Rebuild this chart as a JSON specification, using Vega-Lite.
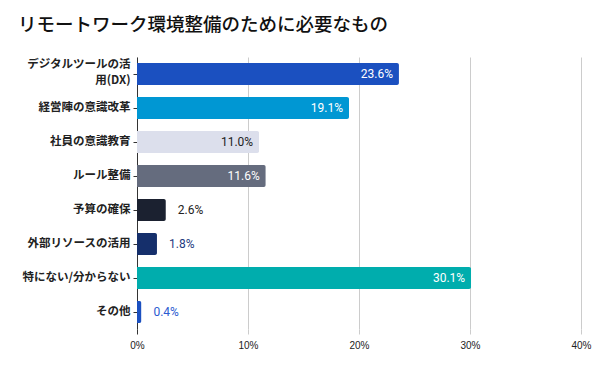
{
  "$schema": "https://vega.github.io/schema/vega-lite/v6.json",
  "autosize": {"type": "none"},
  "width": 444,
  "height": 272,
  "padding": {"left": 137, "top": 57, "right": 19, "bottom": 42},
  "background": "white",
  "title": {
    "text": "リモートワーク環境整備のために必要なもの",
    "anchor": "start",
    "frame": "group",
    "font": "Noto Sans CJK JP",
    "fontSize": 18.5,
    "fontWeight": 500,
    "color": "#111111",
    "dx": -119,
    "offset": 23
  },
  "data": {
    "values": [
      {"category": "デジタルツールの活用(DX)", "value": 0.236},
      {"category": "経営陣の意識改革", "value": 0.191},
      {"category": "社員の意識教育", "value": 0.110},
      {"category": "ルール整備", "value": 0.116},
      {"category": "予算の確保", "value": 0.026},
      {"category": "外部リソースの活用", "value": 0.018},
      {"category": "特にない/分からない", "value": 0.301},
      {"category": "その他", "value": 0.004}
    ]
  },
  "encoding": {
    "y": {
      "field": "category",
      "type": "nominal",
      "sort": null,
      "scale": {"paddingInner": 0.36, "paddingOuter": 0.18},
      "axis": {
        "title": null,
        "labelFont": "Noto Sans CJK JP",
        "labelFontWeight": "bold",
        "labelFontSize": 11.5,
        "labelColor": "#222222",
        "labelPadding": 3,
        "tickSize": 4,
        "tickColor": "#333333",
        "domainColor": "#333333",
        "labelLimit": 200,
        "labelExpr": "datum.label == 'デジタルツールの活用(DX)' ? ['デジタルツールの活', '用(DX)'] : datum.label",
        "labelLineHeight": 16,
        "labelOffset": {"condition": {"test": "datum.label == 'デジタルツールの活用(DX)'", "value": -9}, "value": 0}
      }
    },
    "x": {
      "field": "value",
      "type": "quantitative",
      "scale": {"domain": [0, 0.4]},
      "axis": {
        "title": null,
        "format": ".0%",
        "values": [0, 0.1, 0.2, 0.3, 0.4],
        "domain": false,
        "grid": true,
        "gridColor": "#cccccc",
        "tickColor": {"condition": {"test": "datum.value == 0", "value": "#333333"}, "value": "#cccccc"},
        "tickSize": 5,
        "labelFlush": false,
        "labelFont": "Liberation Sans",
        "labelFontSize": 10,
        "labelColor": "#222222",
        "labelPadding": 6
      }
    }
  },
  "layer": [
    {
      "mark": {"type": "bar", "cornerRadiusEnd": 2},
      "encoding": {
        "color": {
          "field": "category",
          "type": "nominal",
          "legend": null,
          "scale": {
            "domain": ["デジタルツールの活用(DX)", "経営陣の意識改革", "社員の意識教育", "ルール整備", "予算の確保", "外部リソースの活用", "特にない/分からない", "その他"],
            "range": ["#1B50C0", "#0097D3", "#DCDFEC", "#656C7E", "#1B2130", "#152F6B", "#00ADAD", "#1B50C0"]
          }
        }
      }
    },
    {
      "transform": [{"filter": "datum.value > 0.05"}],
      "mark": {"type": "text", "align": "right", "baseline": "middle", "dx": -6, "font": "Roboto", "fontSize": 12},
      "encoding": {
        "text": {"field": "value", "type": "quantitative", "format": ".1%"},
        "color": {
          "condition": {"test": "datum.category == '社員の意識教育'", "value": "#222222"},
          "value": "#ffffff"
        }
      }
    },
    {
      "transform": [{"filter": "datum.value <= 0.05"}],
      "mark": {"type": "text", "align": "left", "baseline": "middle", "dx": 12, "font": "Roboto", "fontSize": 12},
      "encoding": {
        "text": {"field": "value", "type": "quantitative", "format": ".1%"},
        "color": {
          "field": "category",
          "type": "nominal",
          "legend": null,
          "scale": {
            "domain": ["予算の確保", "外部リソースの活用", "その他"],
            "range": ["#222222", "#1E3A80", "#2A5BD0"]
          }
        }
      }
    }
  ],
  "resolve": {"scale": {"color": "independent"}},
  "config": {"view": {"stroke": null}}
}
